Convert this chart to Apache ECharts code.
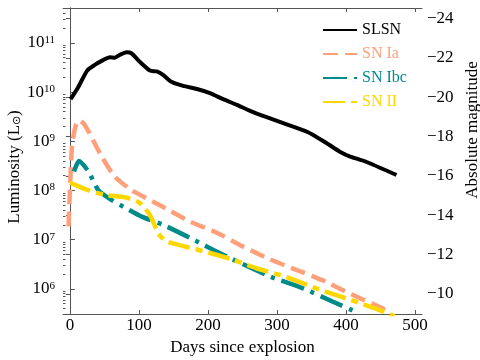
<!DOCTYPE html>
<html>
<head>
<meta charset="utf-8">
<script src="https://cdn.jsdelivr.net/npm/echarts@6/dist/echarts.min.js"></script>
<style>
  html, body { margin: 0; padding: 0; background: #fff; }
  #box { width: 480px; height: 360px; }
</style>
</head>
<body>
<div id="box"></div>
<script>
// light curves (days since explosion, luminosity in L_sun)
const slsnDays = [1, 12, 25, 36, 48, 58, 65, 72, 82, 89, 101, 116, 126, 135, 147, 164, 184, 203, 222, 242, 261, 283, 309, 345, 372, 391, 406, 428, 473];
const slsnLum = [7.18e9, 1.26e10, 2.74e10, 3.57e10, 4.47e10, 5.13e10, 5.01e10, 5.70e10, 6.46e10, 6.17e10, 4.17e10, 2.74e10, 2.63e10, 2.24e10, 1.62e10, 1.34e10, 1.16e10, 9.55e9, 7.18e9, 5.50e9, 4.17e9, 3.16e9, 2.34e9, 1.53e9, 9.12e8, 6.17e8, 4.90e8, 3.89e8, 2.07e8];

const iaDays = [-2, 0, 3, 8, 14, 20, 27, 46, 65, 89, 110, 145, 174, 213, 251, 290, 329, 367, 406, 449, 462];
const iaLum = [1.86e7, 1.0e8, 7.94e8, 2.0e9, 2.69e9, 2.29e9, 1.58e9, 4.90e8, 1.91e8, 1.02e8, 7.08e7, 3.89e7, 2.34e7, 1.38e7, 7.24e6, 3.98e6, 2.40e6, 1.48e6, 7.94e5, 4.27e5, 3.31e5];

const ibcDays = [6, 13, 27, 41, 60, 80, 104, 137, 179, 227, 290, 336, 381, 413];
const ibcLum = [2.43e8, 3.98e8, 2.43e8, 1.02e8, 6.46e7, 4.47e7, 2.95e7, 1.95e7, 1.0e7, 4.57e6, 1.78e6, 1.05e6, 5.50e5, 3.47e5];

const iiDays = [0, 26, 51, 80, 101, 116, 128, 138, 159, 203, 237, 270, 314, 357, 406, 454, 470];
const iiLum = [1.45e8, 1.02e8, 8.13e7, 7.24e7, 5.62e7, 3.16e7, 1.35e7, 9.55e6, 7.76e6, 5.37e6, 3.89e6, 2.63e6, 1.74e6, 1.02e6, 6.03e5, 3.47e5, 2.75e5];

const dayTicks = [0, 100, 200, 300, 400, 500];
const lumTicks = [1e6, 1e7, 1e8, 1e9, 1e10, 1e11];
const magTicks = [-24, -22, -20, -18, -16, -14, -12, -10];

// axis ranges
const dayMin = -10, dayMax = 510;
const lumMin = 3.09e5, lumMax = 5.13e11;
const magOf = L => 4.74 - 2.5 * Math.log10(L);

// minor ticks of the log axis (2..9 x 10^n)
const lumMinor = [];
for (let e = 5; e <= 11; e++) {
  for (let k = 2; k <= 9; k++) {
    const v = k * Math.pow(10, e);
    if (v > lumMin && v < lumMax) lumMinor.push(v);
  }
}

const pairs = (xs, ys) => xs.map((x, i) => [x, ys[i]]);
const font = 'Liberation Serif';
const frame = '#555';

let myecharts = echarts.init(document.getElementById('box'));
let option = {
  animation: false,
  backgroundColor: '#fff',
  textStyle: { fontFamily: font },
  grid: { left: 63, right: 58, top: 8, bottom: 46, outerBoundsMode: 'none', containLabel: false },
  legend: {
    orient: 'vertical',
    left: 317,
    top: 17,
    itemWidth: 34,
    itemHeight: 14,
    itemGap: 8,
    itemStyle: { color: 'transparent', borderWidth: 0, opacity: 0 },
    textStyle: { fontFamily: font, fontSize: 16, lineHeight: 14 },
    data: [
      { name: 'SLSN', textStyle: { color: '#000' } },
      { name: 'SN Ia', textStyle: { color: '#FFA07A' } },
      { name: 'SN Ibc', textStyle: { color: '#008B8B' } },
      { name: 'SN II', textStyle: { color: '#FFD700' } }
    ]
  },
  xAxis: [
    {
      type: 'value',
      min: dayMin,
      max: dayMax,
      name: 'Days since explosion',
      nameLocation: 'middle',
      nameGap: 19,
      nameTextStyle: { fontFamily: font, fontSize: 17, color: '#000' },
      axisLine: { lineStyle: { color: frame } },
      axisTick: { inside: true, length: 4, lineStyle: { color: frame }, customValues: dayTicks },
      axisLabel: { fontFamily: font, fontSize: 17, color: '#000', margin: 3, customValues: dayTicks },
      splitLine: { show: false }
    },
    {
      type: 'value',
      position: 'top',
      min: dayMin,
      max: dayMax,
      axisLine: { lineStyle: { color: frame } },
      axisTick: { inside: true, length: 4, lineStyle: { color: frame }, customValues: dayTicks },
      axisLabel: { show: false },
      splitLine: { show: false }
    }
  ],
  yAxis: [
    {
      type: 'log',
      logBase: 10,
      min: lumMin,
      max: lumMax,
      position: 'left',
      name: 'Luminosity (L{sub|⊙})',
      nameLocation: 'middle',
      nameRotate: 90,
      nameGap: 40,
      nameMoveOverlap: false,
      nameTextStyle: {
        fontFamily: font, fontSize: 17, color: '#000', padding: [0, 12, 0, 0],
        rich: { sub: { fontFamily: font, fontSize: 11, color: '#000', verticalAlign: 'bottom', padding: [6, 0, 0, 0] } }
      },
      axisLine: { show: true, lineStyle: { color: frame } },
      axisTick: { inside: true, length: 5, lineStyle: { color: frame }, customValues: lumTicks },
      axisLabel: {
        margin: 8,
        customValues: lumTicks,
        formatter: v => '{b|10}{s|' + Math.round(Math.log10(v)) + '}',
        rich: {
          b: { fontFamily: font, fontSize: 17, color: '#000', verticalAlign: 'bottom', lineHeight: 17 },
          s: { fontFamily: font, fontSize: 11, color: '#000', verticalAlign: 'top', lineHeight: 11, padding: [0, 0, 9, 0] }
        }
      },
      splitLine: { show: false }
    },
    {
      type: 'value',
      inverse: true,
      min: magOf(lumMax),
      max: magOf(lumMin),
      position: 'right',
      name: 'Absolute magnitude',
      nameLocation: 'middle',
      nameRotate: 90,
      nameGap: 40,
      nameTextStyle: { fontFamily: font, fontSize: 17, color: '#000', padding: [0, 0, 0, 62] },
      axisLine: { show: true, lineStyle: { color: frame } },
      axisTick: { inside: true, length: 4, lineStyle: { color: frame }, customValues: magTicks },
      axisLabel: {
        fontFamily: font, fontSize: 17, color: '#000', margin: 5,
        customValues: magTicks,
        formatter: v => (v < 0 ? '\u2212' : '') + Math.abs(v)
      },
      splitLine: { show: false }
    },
    {
      type: 'log',
      logBase: 10,
      min: lumMin,
      max: lumMax,
      position: 'left',
      axisLine: { show: false },
      axisTick: { inside: true, length: 2.5, lineStyle: { color: frame }, customValues: lumMinor },
      axisLabel: { show: false },
      splitLine: { show: false }
    }
  ],
  series: [
    {
      name: 'SLSN', type: 'line', symbol: 'none', smooth: 0.2,
      lineStyle: { color: '#000', width: 4 }, itemStyle: { color: '#000' },
      data: pairs(slsnDays, slsnLum)
    },
    {
      name: 'SN Ia', type: 'line', symbol: 'none', smooth: 0.2,
      lineStyle: { color: '#FFA07A', width: 4.5, type: [15, 7] }, itemStyle: { color: '#FFA07A' },
      data: pairs(iaDays, iaLum)
    },
    {
      name: 'SN Ibc', type: 'line', symbol: 'none', smooth: 0.2,
      lineStyle: { color: '#008B8B', width: 4.5, type: [24, 7, 4, 7] }, itemStyle: { color: '#008B8B' },
      data: pairs(ibcDays, ibcLum)
    },
    {
      name: 'SN II', type: 'line', symbol: 'none', smooth: 0.2,
      lineStyle: { color: '#FFD700', width: 4.5, type: [22, 6, 7, 6] }, itemStyle: { color: '#FFD700' },
      data: pairs(iiDays, iiLum)
    }
  ]
};
myecharts.setOption(option);

window.onresize = function () {
  myecharts.resize();
};
</script>
</body>
</html>
